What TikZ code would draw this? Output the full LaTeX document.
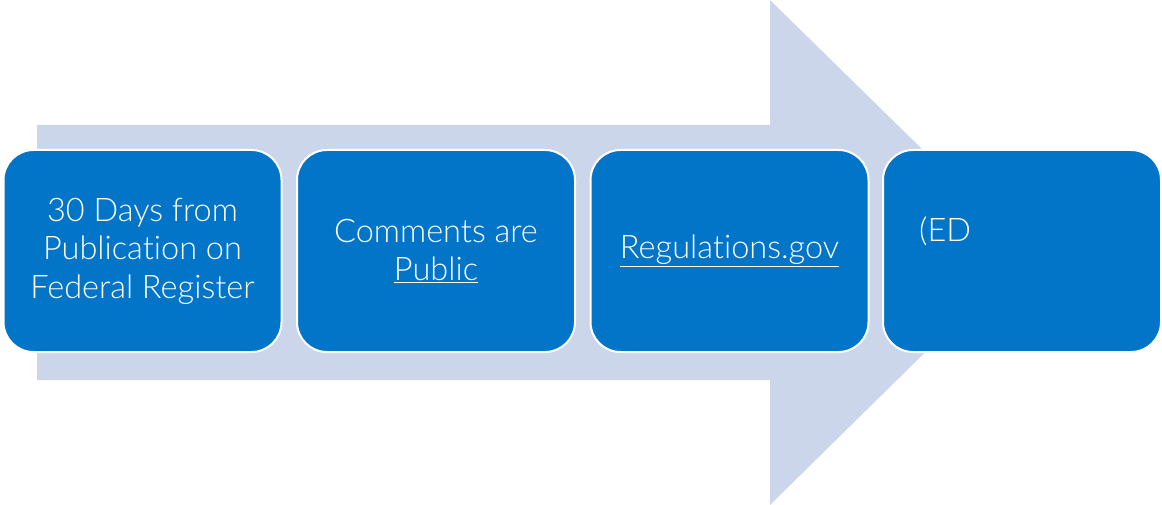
\documentclass[tikz,border=0pt]{standalone}
\usepackage{fontspec}
\setmainfont{Lato Light}[Ligatures={NoCommon}]

\definecolor{shaftblue}{RGB}{204,214,234}
\definecolor{stepblue}{RGB}{2,117,200}

\begin{document}
\begin{tikzpicture}[x=1pt,y=-1pt,
    stepbox/.style={draw=white, line width=2pt, fill=stepblue, rounded corners=30pt,
        minimum width=278pt, minimum height=202pt, inner sep=0pt,
        text=white, align=center, font=\fontsize{32.5}{38.5}\selectfont}]
        \useasboundingbox (0,0) rectangle (1162,505);
        % big arrow behind the steps
        \fill[shaftblue] (37,125) -- (770,125) -- (770,0) -- (1027,252) -- (770,505) -- (770,380) -- (37,380) -- cycle;
        \node[stepbox] (days) at (142.5,251) {30 Days from\\Publication on\\Federal Register};
        \node[stepbox] (public) at (436,251) {Comments are\\\underline{Public}};
        \node[stepbox] (regs) at (729.5,251) {\underline{Regulations.gov}};
        \node[stepbox] (ed) at (1022,251) {};
        \node[anchor=base west, inner sep=0pt, text=white, font=\fontsize{32.5}{38.5}\selectfont] (edtext) at (919,242) {(ED};
    \end{tikzpicture}
\end{document}
